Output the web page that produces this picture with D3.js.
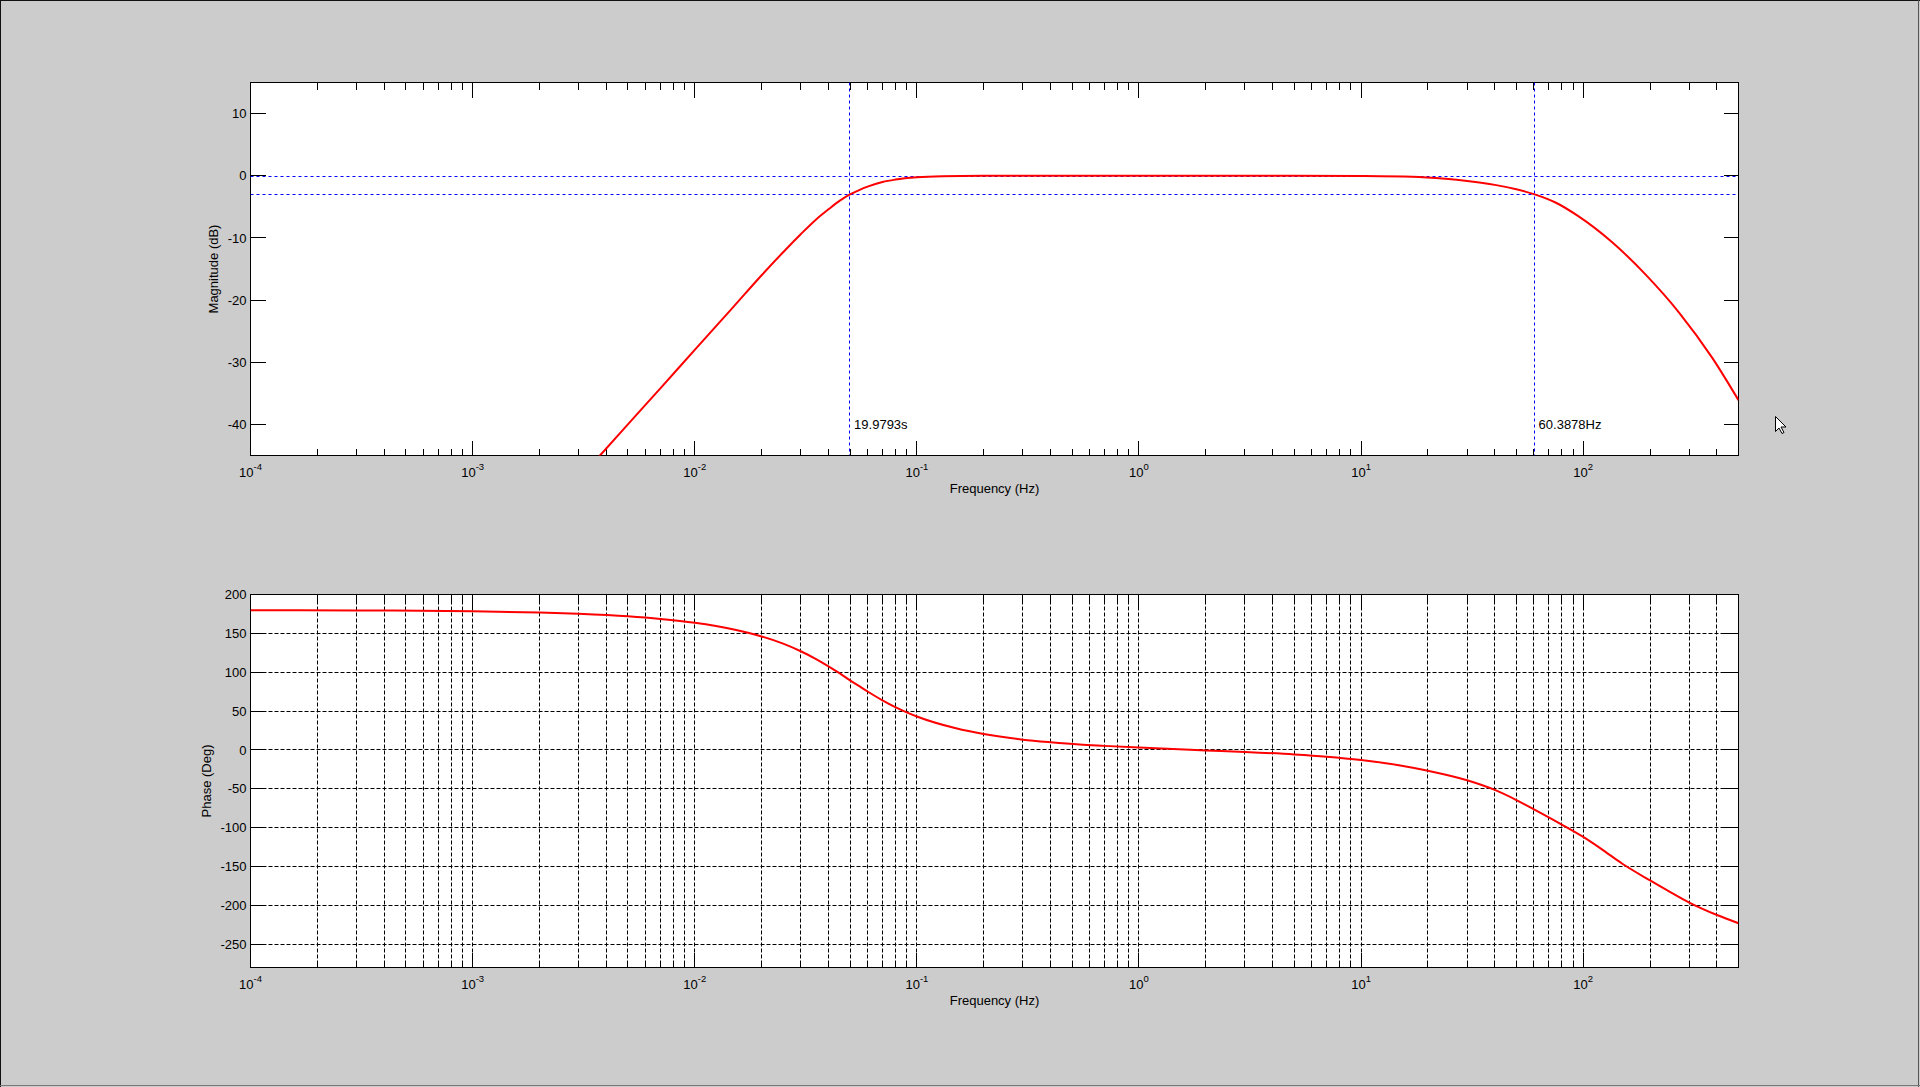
<!DOCTYPE html>
<html>
<head>
<meta charset="utf-8">
<script src="https://cdn.jsdelivr.net/npm/d3@7"></script>
<style>
    html, body { margin: 0; padding: 0; background: #cccccc; overflow: hidden; }
    svg { display: block; }
    text { font-family: Arial, "Liberation Sans", Helvetica, sans-serif; fill: #000; }
</style>
</head>
<body>
<div id="chart"></div>
<script>
// magnitude response (Hz, dB)
var magFreq = [0.00368, 0.005, 0.007, 0.01, 0.015, 0.02, 0.025, 0.03, 0.035, 0.04, 0.045, 0.05, 0.055, 0.06, 0.07, 0.08, 0.1, 0.13, 0.2, 0.5,
    1, 2, 5, 10, 17, 24, 30, 40, 50, 60.4, 75, 95, 135, 191, 270, 381, 500];
var magDb = [-45.3, -40.0, -34.2, -28.0, -21.0, -16.0, -12.3, -9.4, -7.1, -5.4, -4.0, -3.0, -2.3, -1.75, -1.0, -0.62, -0.26, -0.09, -0.02, 0,
    0, 0, -0.01, -0.05, -0.16, -0.5, -0.85, -1.47, -2.18, -3.0, -4.3, -6.5, -10.7, -15.9, -22.0, -29.3, -36.1];

// phase response (Hz, degrees)
var phaseFreq = [0.0001, 0.0003, 0.001, 0.002, 0.003, 0.005, 0.007, 0.01, 0.015, 0.02, 0.025, 0.03, 0.035, 0.04, 0.045, 0.05, 0.055, 0.06,
    0.07, 0.08, 0.09, 0.1, 0.15, 0.2, 0.3, 0.4, 0.54, 0.7, 1, 2, 3, 5, 7, 10, 15, 20, 30, 40, 50, 60, 80, 100, 120, 150, 200, 250, 300, 400, 500];
var phaseDeg = [179.8, 179.5, 178.5, 176.8, 175.1, 171.9, 168.6, 163.7, 155, 146, 136.7, 127, 117.3, 107.6, 98.4, 89.5, 82, 75.2,
    63.8, 55, 48.3, 43, 27.8, 20.4, 13.2, 9.8, 6.9, 5.2, 3.0, -0.6, -2.6, -5.8, -8.7, -13, -20, -26.8, -39, -51.5, -64.5, -76.5, -96, -112, -127, -146.5, -168, -184, -196.5, -212.5, -223];

// cut-off markers
var cutFreq = [0.050052, 60.3878];
var cutLabels = ["19.9793s", "60.3878Hz"];
var refDb = [0, -3];
var labelDb = -40;

// axes
var freqDomain = [1e-4, 500];
var decades = [-4, -3, -2, -1, 0, 1, 2];
var magDomain = [-45, 15];
var magTicks = [-40, -30, -20, -10, 0, 10];
var phaseDomain = [-280, 200];
var phaseTicks = [-250, -200, -150, -100, -50, 0, 50, 100, 150, 200];

var W = 1920, H = 1087;
var left = 250.5, right = 1738.5;

var svg = d3.select("#chart").append("svg")
    .attr("width", W)
    .attr("height", H);

svg.append("rect").attr("width", W).attr("height", H).attr("fill", "#cccccc");
// window frame
svg.append("line").attr("x1", 0.5).attr("y1", 0).attr("x2", 0.5).attr("y2", H).attr("stroke", "#111");
svg.append("line").attr("x1", 0).attr("y1", 0.5).attr("x2", W).attr("y2", 0.5).attr("stroke", "#111");
svg.append("line").attr("x1", W - 1.5).attr("y1", 0).attr("x2", W - 1.5).attr("y2", H).attr("stroke", "#555");
svg.append("line").attr("x1", 0).attr("y1", H - 1.5).attr("x2", W).attr("y2", H - 1.5).attr("stroke", "#777");

var x = d3.scaleLog().domain(freqDomain).range([left, right]);
var allTicks = x.ticks();
var majorTicks = decades.map(function(e) { return Math.pow(10, e); });
var minorTicks = allTicks.filter(function(t) {
    return Math.abs(Math.log10(t) - Math.round(Math.log10(t))) > 1e-6;
});

function panel(id, top, bottom, domain, yTicks, yLabel, grid) {
    var y = d3.scaleLinear().domain(domain).range([bottom, top]);
    var g = svg.append("g").attr("class", id);

    g.append("clipPath").attr("id", "clip-" + id)
        .append("rect")
        .attr("x", left).attr("y", top)
        .attr("width", right - left).attr("height", bottom - top);

    g.append("rect")
        .attr("x", left).attr("y", top)
        .attr("width", right - left).attr("height", bottom - top)
        .attr("fill", "#fff");

    if (grid) {
        g.append("g").selectAll("line.vg")
            .data(allTicks)
            .enter().append("line")
            .attr("x1", function(d) { return Math.round(x(d) - 0.5) + 0.5; })
            .attr("x2", function(d) { return Math.round(x(d) - 0.5) + 0.5; })
            .attr("y1", top).attr("y2", bottom)
            .attr("stroke", "#000")
            .attr("stroke-dasharray", "4,2");
        g.append("g").selectAll("line.hg")
            .data(yTicks)
            .enter().append("line")
            .attr("x1", left).attr("x2", right)
            .attr("y1", function(d) { return Math.round(y(d) - 0.5) + 0.5; })
            .attr("y2", function(d) { return Math.round(y(d) - 0.5) + 0.5; })
            .attr("stroke", "#000")
            .attr("stroke-dasharray", "4,2");
    }

    // inward ticks on all four sides
    function ticks(axis, tx, ty) {
        var a = g.append("g")
            .attr("transform", "translate(" + tx + "," + ty + ")")
            .call(axis.tickSizeOuter(0).tickFormat("").offset(0));
        a.select(".domain").remove();
        a.selectAll("line").attr("stroke", "#000").attr("shape-rendering", "crispEdges");
    }
    ticks(d3.axisBottom(x).tickValues(minorTicks).tickSizeInner(-7), 0, bottom);
    ticks(d3.axisBottom(x).tickValues(majorTicks).tickSizeInner(-15), 0, bottom);
    ticks(d3.axisTop(x).tickValues(minorTicks).tickSizeInner(-7), 0, top);
    ticks(d3.axisTop(x).tickValues(majorTicks).tickSizeInner(-15), 0, top);
    ticks(d3.axisLeft(y).tickValues(yTicks).tickSizeInner(-15), left, 0);
    ticks(d3.axisRight(y).tickValues(yTicks).tickSizeInner(-15), right, 0);

    g.append("rect")
        .attr("x", left).attr("y", top)
        .attr("width", right - left).attr("height", bottom - top)
        .attr("fill", "none")
        .attr("stroke", "#000");

    // y tick labels
    g.selectAll("text.yl")
        .data(yTicks)
        .enter().append("text")
        .attr("x", left - 4)
        .attr("y", function(d) { return y(d); })
        .attr("dy", "0.36em")
        .attr("text-anchor", "end")
        .style("font-size", "13px")
        .text(function(d) { return d; });

    // x tick labels: 10 with superscript exponent
    var xl = g.selectAll("text.xl")
        .data(decades)
        .enter().append("text")
        .attr("x", function(d) { return x(Math.pow(10, d)); })
        .attr("y", bottom + 21)
        .attr("text-anchor", "middle")
        .style("font-size", "13px");
    xl.append("tspan").text("10");
    xl.append("tspan")
        .attr("dy", -7)
        .style("font-size", "9.5px")
        .text(function(d) { return d; });

    g.append("text")
        .attr("x", (left + right) / 2)
        .attr("y", bottom + 37.5)
        .attr("text-anchor", "middle")
        .style("font-size", "13px")
        .text("Frequency (Hz)");

    g.append("text")
        .attr("transform", "translate(" + (id === "mag" ? 213 : 206) + "," + ((top + bottom) / 2) + ") rotate(-90)")
        .attr("dy", "0.35em")
        .attr("text-anchor", "middle")
        .style("font-size", "13px")
        .text(yLabel);

    return { g: g, y: y, top: top, bottom: bottom };
}

var mag = panel("mag", 82.5, 455.5, magDomain, magTicks, "Magnitude (dB)", false);
var phase = panel("phase", 594.5, 967.5, phaseDomain, phaseTicks, "Phase (Deg)", true);

// blue cut-off markers on the magnitude panel
var marks = mag.g.append("g").attr("clip-path", "url(#clip-mag)");
marks.selectAll("line.ref")
    .data(refDb)
    .enter().append("line")
    .attr("x1", left).attr("x2", right)
    .attr("y1", function(d) { return Math.round(mag.y(d)) + 0.5; })
    .attr("y2", function(d) { return Math.round(mag.y(d)) + 0.5; })
    .attr("stroke", "#0000ff")
    .attr("stroke-dasharray", "3,3");
marks.selectAll("line.cut")
    .data(cutFreq)
    .enter().append("line")
    .attr("x1", function(d) { return Math.round(x(d)) - 0.5; })
    .attr("x2", function(d) { return Math.round(x(d)) - 0.5; })
    .attr("y1", mag.top).attr("y2", mag.bottom)
    .attr("stroke", "#0000ff")
    .attr("stroke-dasharray", "3,3");
mag.g.selectAll("text.cut")
    .data(cutFreq)
    .enter().append("text")
    .attr("x", function(d) { return x(d) + 4; })
    .attr("y", mag.y(labelDb))
    .attr("dy", "0.36em")
    .style("font-size", "13px")
    .text(function(d, i) { return cutLabels[i]; });

function curve(p, xs, ys, id) {
    var pts = xs.map(function(f, i) { return [f, ys[i]]; });
    p.g.append("path")
        .datum(pts)
        .attr("clip-path", "url(#clip-" + id + ")")
        .attr("fill", "none")
        .attr("stroke", "#ff0000")
        .attr("stroke-width", 2)
        .attr("stroke-linejoin", "round")
        .attr("d", d3.line()
            .curve(d3.curveMonotoneX)
            .x(function(d) { return x(d[0]); })
            .y(function(d) { return p.y(d[1]); }));
}
curve(mag, magFreq, magDb, "mag");
curve(phase, phaseFreq, phaseDeg, "phase");

// mouse pointer left in the screenshot
svg.append("path")
    .attr("transform", "translate(1775.5,416.5)")
    .attr("d", "M0,0 L0,15 L3.5,11.5 L6.5,17 L8.5,16 L5.5,10.5 L10.5,10.5 Z")
    .attr("fill", "#fff")
    .attr("stroke", "#000")
    .attr("stroke-width", 1);
</script>
</body>
</html>
